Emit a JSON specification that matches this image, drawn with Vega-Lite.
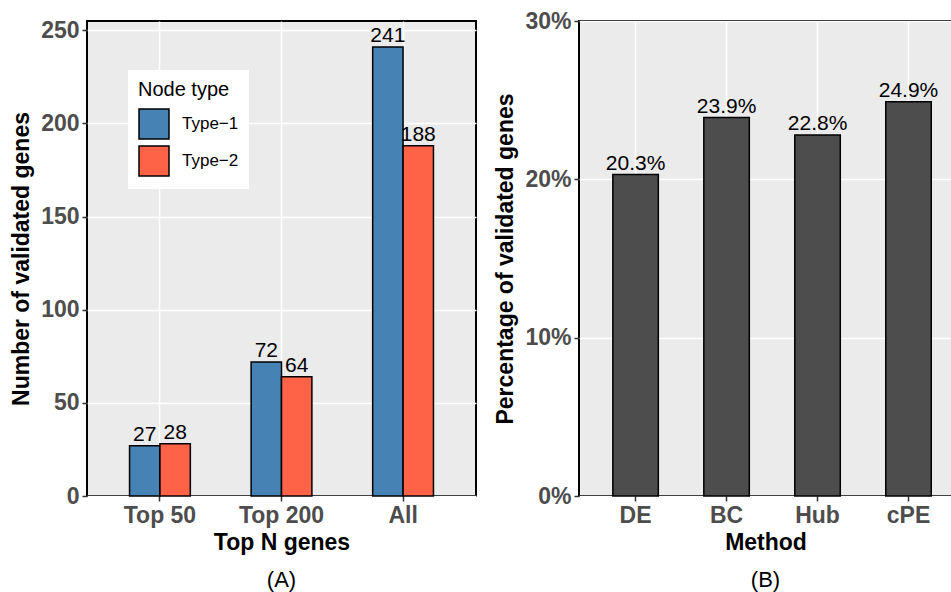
{
  "$schema": "https://vega.github.io/schema/vega-lite/v6.json",
  "background": "white",
  "padding": {"left": 9, "top": 9, "right": 0, "bottom": 0},
  "bounds": "flush",
  "spacing": 103,
  "config": {
    "font": "Liberation Sans",
    "view": {"fill": "#EBEBEB", "stroke": "black", "strokeWidth": 2},
    "axis": {
      "domain": false, "grid": true, "gridColor": "white", "gridWidth": 1.5,
      "tickColor": "#333333", "tickSize": 5, "tickWidth": 1.5,
      "labelFont": "Liberation Sans", "labelFontSize": 23, "labelFontWeight": "bold", "labelColor": "#4D4D4D", "labelPadding": 3,
      "titleFont": "Liberation Sans", "titleFontSize": 23, "titleFontWeight": "bold", "titleColor": "black"
    },
    "title": {"font": "Liberation Sans", "fontSize": 22, "fontWeight": "normal", "color": "black", "orient": "bottom", "anchor": "middle"}
  },
  "datasets": {
    "counts": [
      {"group": "Top 50", "type": "Type\u22121", "value": 27},
      {"group": "Top 50", "type": "Type\u22122", "value": 28},
      {"group": "Top 200", "type": "Type\u22121", "value": 72},
      {"group": "Top 200", "type": "Type\u22122", "value": 64},
      {"group": "All", "type": "Type\u22121", "value": 241},
      {"group": "All", "type": "Type\u22122", "value": 188}
    ],
    "pct": [
      {"method": "DE", "value": 0.203},
      {"method": "BC", "value": 0.239},
      {"method": "Hub", "value": 0.228},
      {"method": "cPE", "value": 0.249}
    ]
  },
  "hconcat": [
    {
      "width": 389, "height": 475,
      "title": {"text": "(A)", "offset": 16},
      "data": {"name": "counts"},
      "encoding": {
        "x": {"field": "group", "type": "nominal", "sort": ["Top 50", "Top 200", "All"],
              "scale": {"paddingInner": 0.5, "paddingOuter": 0.35},
              "axis": {"title": "Top N genes", "labelAngle": 0, "bandPosition": 0.5, "titlePadding": 4}},
        "xOffset": {"field": "type", "type": "nominal", "scale": {"paddingInner": 0, "paddingOuter": 0}},
        "y": {"field": "value", "type": "quantitative",
              "scale": {"domain": [0, 255], "nice": false},
              "axis": {"title": "Number of validated genes", "values": [0, 50, 100, 150, 200, 250], "titlePadding": 7}}
      },
      "layer": [
        {
          "mark": {"type": "bar", "stroke": "black", "strokeWidth": 1.5},
          "encoding": {
            "color": {"field": "type", "type": "nominal",
                      "scale": {"domain": ["Type\u22121", "Type\u22122"], "range": ["#4682B4", "#FF6347"]},
                      "legend": {"title": "Node type", "orient": "none", "legendX": 41, "legendY": 49,
                                 "fillColor": "white", "padding": 10, "symbolType": "square", "symbolSize": 900,
                                 "symbolStrokeColor": "black", "symbolStrokeWidth": 1.5, "symbolOpacity": 1,
                                 "titleFontSize": 20, "titleFontWeight": "normal", "titleColor": "black", "titlePadding": 8,
                                 "labelFontSize": 17, "labelColor": "black", "labelOffset": 12, "rowPadding": 1}}
          }
        },
        {
          "mark": {"type": "text", "baseline": "bottom", "dy": -1, "fontSize": 21, "color": "black"},
          "encoding": {"text": {"field": "value", "type": "quantitative"}}
        }
      ]
    },
    {
      "width": 373, "height": 475,
      "title": {"text": "(B)", "offset": 16},
      "data": {"name": "pct"},
      "encoding": {
        "x": {"field": "method", "type": "nominal", "sort": ["DE", "BC", "Hub", "cPE"],
              "scale": {"paddingInner": 0.5, "paddingOuter": 0.3, "align": 0.62},
              "axis": {"title": "Method", "labelAngle": 0, "bandPosition": 0.5, "titlePadding": 4}},
        "y": {"field": "value", "type": "quantitative",
              "scale": {"domain": [0, 0.3], "nice": false},
              "axis": {"title": "Percentage of validated genes", "values": [0, 0.1, 0.2, 0.3], "format": ".0%", "titlePadding": 7}}
      },
      "layer": [
        {"mark": {"type": "bar", "fill": "#4D4D4D", "stroke": "black", "strokeWidth": 1.5}},
        {
          "mark": {"type": "text", "baseline": "bottom", "dy": -1, "fontSize": 21, "color": "black"},
          "encoding": {"text": {"field": "value", "type": "quantitative", "format": ".1%"}}
        }
      ]
    }
  ]
}
